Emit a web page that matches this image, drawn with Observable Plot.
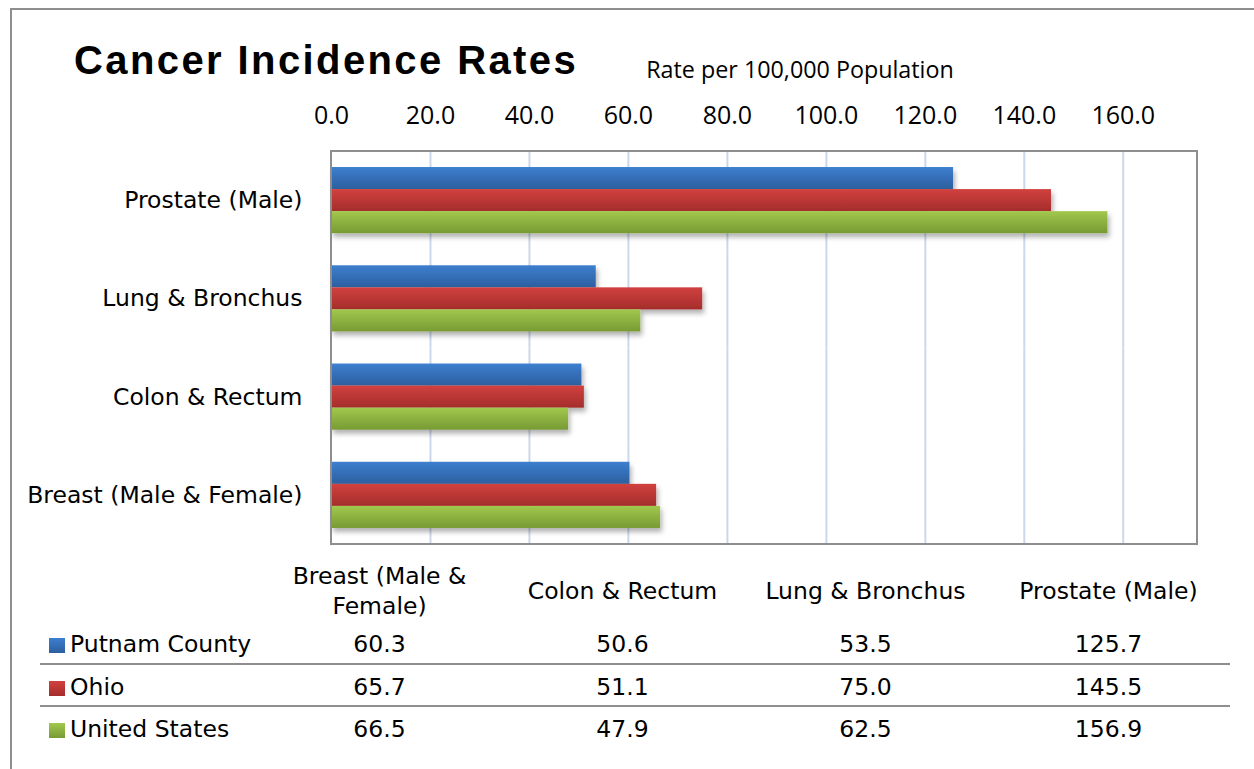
<!DOCTYPE html>
<html><head><meta charset="utf-8">
<script src="https://cdn.jsdelivr.net/npm/d3@7"></script>
<script src="https://cdn.jsdelivr.net/npm/@observablehq/plot@0.6"></script>
<style>
body{margin:0;background:#fff;}
#page{position:relative;width:1254px;height:769px;overflow:hidden;background:#fff;}
#border{position:absolute;left:10px;top:8px;right:-10px;bottom:-10px;border-top:2px solid #8e8e8e;border-left:2px solid #8e8e8e;}
#title{position:absolute;left:74px;top:40px;font:bold 40px "Liberation Sans",Arial,sans-serif;letter-spacing:2.4px;line-height:40px;white-space:nowrap;color:#000;}
#subtitle{position:absolute;left:600px;width:400px;text-align:center;top:58px;font:23.3px "Open Sans",sans-serif;line-height:23px;color:#000;white-space:nowrap;}
#chart{position:absolute;left:0;top:0;}
#tbl{position:absolute;left:40px;top:559px;border-collapse:collapse;table-layout:fixed;width:1190px;font:23.5px "DejaVu Sans",sans-serif;color:#000;}
#tbl th{font-weight:normal;height:63px;line-height:30px;padding:0;vertical-align:middle;text-align:center;}
#tbl td{height:42px;padding:3px 0 0 0;box-sizing:border-box;vertical-align:middle;text-align:center;white-space:nowrap;}
#tbl td.lab{text-align:left;}
#tbl tr.sep td{border-bottom:2px solid #8e8e8e;}
.sw{display:inline-block;width:16px;height:15px;margin-left:9px;margin-right:5px;vertical-align:-1px;}
</style></head>
<body>
<div id="page">
<svg width="0" height="0" style="position:absolute">
<defs>
<linearGradient id="gradBlue" x1="0" y1="0" x2="0" y2="1"><stop offset="0" stop-color="#3d7fcf"/><stop offset="1" stop-color="#2c5f9f"/></linearGradient>
<linearGradient id="gradRed" x1="0" y1="0" x2="0" y2="1"><stop offset="0" stop-color="#d1413f"/><stop offset="1" stop-color="#a42d2b"/></linearGradient>
<linearGradient id="gradGreen" x1="0" y1="0" x2="0" y2="1"><stop offset="0" stop-color="#a2c84d"/><stop offset="1" stop-color="#789a34"/></linearGradient>
<filter id="shadow" x="-5%" y="-20%" width="115%" height="160%"><feDropShadow dx="2" dy="4" stdDeviation="2.5" flood-color="#000" flood-opacity="0.3"/></filter>
</defs>
</svg>
<div id="border"></div>
<div id="chart"></div>
<div id="title">Cancer Incidence Rates</div>
<div id="subtitle">Rate per 100,000 Population</div>
<table id="tbl"></table>
</div>
<script>
const categories = ["Breast (Male & Female)", "Colon & Rectum", "Lung & Bronchus", "Prostate (Male)"];
const series = ["Putnam County", "Ohio", "United States"];
const putnam = [60.3, 50.6, 53.5, 125.7];
const ohio = [65.7, 51.1, 75.0, 145.5];
const unitedStates = [66.5, 47.9, 62.5, 156.9];
const xTicks = [0, 20, 40, 60, 80, 100, 120, 140, 160];
const xMax = 175;

const seriesValues = [putnam, ohio, unitedStates];
const gradIds = ["gradBlue", "gradRed", "gradGreen"];
const rows = [];
categories.forEach((c, i) => series.forEach((s, j) => rows.push({category: c, series: s, value: seriesValues[j][i]})));

const W = 1254, H = 769, mL = 331, mR = 57, mT = 151, mB = 225;
const chart = Plot.plot({
  width: W, height: H, marginLeft: mL, marginRight: mR, marginTop: mT, marginBottom: mB,
  style: {background: "transparent", overflow: "visible"},
  x: {domain: [0, xMax]},
  fy: {domain: categories.slice().reverse(), padding: 0, round: false},
  y: {domain: series, paddingInner: 0, paddingOuter: 0.727, round: false, axis: null},
  color: {domain: series, range: gradIds.map(id => `url(#${id})`)},
  marks: [
    Plot.gridX(xTicks.slice(1), {stroke: "#cbd8ea", strokeOpacity: 1, strokeWidth: 2}),
    Plot.barX(rows, {fy: "category", y: "series", x: "value", fill: "series"}),
    Plot.axisX(xTicks, {anchor: "top", tickSize: 0, tickPadding: 28, tickFormat: d => d.toFixed(1), fontSize: 25, fontFamily: "Open Sans", fill: "#000", label: null}),
    Plot.axisFy({anchor: "left", tickSize: 0, tickPadding: 29, fontSize: 23.5, fontFamily: "DejaVu Sans", fill: "#000", label: null})
  ]
});
document.getElementById("chart").appendChild(chart);

const svg = d3.select(chart);
svg.selectAll('g[aria-label="bar"]').attr("filter", "url(#shadow)");
const xs = chart.scale("x");
const x0 = xs.apply(0), x1 = xs.apply(xMax);
svg.append("rect").attr("x", x0).attr("y", mT).attr("width", x1 - x0).attr("height", H - mT - mB)
  .attr("fill", "none").attr("stroke", "#8e8e8e").attr("stroke-width", 2);

// data table
const tbl = d3.select("#tbl");
const cg = tbl.append("colgroup");
cg.append("col").style("width", "218px");
categories.forEach(() => cg.append("col").style("width", "243px"));
const hr = tbl.append("tr");
hr.append("th");
categories.forEach(c => hr.append("th").text(c));
series.forEach((s, j) => {
  const tr = tbl.append("tr").attr("class", j < series.length - 1 ? "sep" : null);
  const lab = tr.append("td").attr("class", "lab");
  const stops = d3.select("#" + gradIds[j]).selectAll("stop").nodes().map(n => n.getAttribute("stop-color"));
  lab.append("span").attr("class", "sw").style("background", `linear-gradient(${stops.join(",")})`);
  lab.append("span").text(s);
  seriesValues[j].forEach(v => tr.append("td").text(v.toFixed(1)));
});
</script>
</body></html>
